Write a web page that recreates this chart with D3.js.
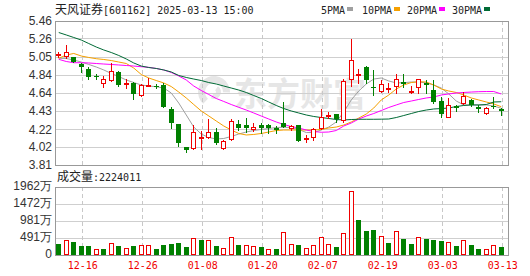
<!DOCTYPE html>
<html><head><meta charset="utf-8">
<script src="https://cdn.jsdelivr.net/npm/d3@7/dist/d3.min.js"></script>
<style>body{margin:0;background:#fff}svg{display:block}</style>
</head><body><svg id="c" width="530" height="276"></svg>
<script>
const dates = ["12-11","12-12","12-13","12-16","12-17","12-18","12-19","12-20","12-23","12-24","12-25","12-26","12-27","12-30","12-31",
"01-02","01-03","01-06","01-07","01-08","01-09","01-10","01-13","01-14","01-15","01-16","01-17","01-20","01-21","01-22","01-23","01-24","01-27",
"02-05","02-06","02-07","02-10","02-11","02-12","02-13","02-14","02-17","02-18","02-19","02-20","02-21","02-24","02-25","02-26","02-27","02-28",
"03-03","03-04","03-05","03-06","03-07","03-10","03-11","03-12","03-13"];
const openP  = [5.065,5.062,5.051,4.971,4.91,4.825,4.746,4.784,4.872,4.74,4.753,4.612,4.72,4.715,4.727,4.455,4.28,4.013,4.001,4.13,4.127,4.185,4.001,4.104,4.276,4.265,4.219,4.27,4.27,4.23,4.295,4.23,4.268,4.11,4.127,4.23,4.38,4.394,4.326,4.80,4.85,4.936,4.705,4.661,4.69,4.719,4.761,4.655,4.70,4.746,4.67,4.547,4.363,4.486,4.517,4.555,4.47,4.402,4.49,4.448];
const highP  = [5.11,5.185,5.051,4.975,4.933,4.853,4.83,4.982,4.89,4.792,4.76,4.735,4.81,4.735,4.746,4.47,4.28,4.02,4.268,4.20,4.337,4.23,4.096,4.337,4.326,4.345,4.288,4.288,4.28,4.257,4.535,4.268,4.27,4.154,4.238,4.452,4.42,4.394,4.80,5.254,4.907,4.948,4.90,4.784,4.746,4.853,4.853,4.715,4.792,4.784,4.784,4.593,4.574,4.498,4.65,4.563,4.498,4.47,4.586,4.46];
const lowP   = [5.05,5.033,4.987,4.88,4.80,4.795,4.707,4.772,4.719,4.69,4.57,4.60,4.71,4.69,4.47,4.23,4.028,3.955,3.99,3.993,4.12,4.05,3.99,4.096,4.21,4.19,4.20,4.173,4.18,4.18,4.249,4.21,4.08,4.077,4.096,4.22,4.345,4.306,4.306,4.719,4.753,4.746,4.612,4.65,4.65,4.638,4.707,4.638,4.632,4.632,4.517,4.357,4.357,4.432,4.509,4.486,4.42,4.39,4.46,4.383];
const closeP = [5.08,5.108,4.994,4.937,4.815,4.82,4.792,4.89,4.723,4.75,4.624,4.727,4.73,4.705,4.478,4.288,4.058,3.982,4.185,4.135,4.185,4.066,4.085,4.318,4.23,4.234,4.242,4.23,4.235,4.21,4.25,4.26,4.088,4.116,4.219,4.363,4.383,4.334,4.772,5.013,4.853,4.784,4.70,4.738,4.696,4.80,4.738,4.661,4.792,4.727,4.535,4.394,4.498,4.46,4.601,4.498,4.455,4.462,4.486,4.432];
const prevClose = 5.10;
const volume = [317,423,375,260,260,173,173,337,260,202,260,288,288,173,288,317,346,231,490,433,423,260,202,519,288,288,260,231,164,173,654,308,288,192,279,510,308,231,625,1837,1010,692,721,548,346,683,462,317,510,462,433,404,366,260,423,288,173,164,279,222.4011];
const ma5  = [5.033,5.030,5.013,4.990,4.962,4.933,4.899,4.859,4.824,4.784,4.755,4.727,4.715,4.707,4.692,4.635,4.520,4.383,4.245,4.165,4.125,4.108,4.114,4.137,4.165,4.188,4.205,4.217,4.228,4.240,4.242,4.240,4.217,4.182,4.182,4.211,4.245,4.303,4.417,4.555,4.658,4.738,4.795,4.807,4.773,4.750,4.753,4.761,4.761,4.750,4.727,4.692,4.624,4.543,4.498,4.498,4.498,4.498,4.486,4.460];
const ma10 = [5.033,5.070,5.088,5.059,5.042,5.028,5.019,5.007,4.990,4.973,4.921,4.847,4.807,4.778,4.750,4.709,4.646,4.578,4.503,4.429,4.372,4.314,4.257,4.211,4.171,4.154,4.160,4.171,4.188,4.205,4.211,4.211,4.211,4.211,4.211,4.217,4.234,4.245,4.268,4.303,4.348,4.394,4.463,4.555,4.612,4.681,4.727,4.755,4.764,4.761,4.727,4.681,4.658,4.641,4.612,4.578,4.555,4.532,4.509,4.478];
const ma20 = [5.021,4.996,4.982,4.982,4.979,4.973,4.967,4.962,4.956,4.950,4.944,4.936,4.929,4.916,4.899,4.870,4.830,4.784,4.715,4.664,4.618,4.572,4.538,4.503,4.471,4.440,4.406,4.371,4.337,4.303,4.274,4.251,4.234,4.211,4.194,4.185,4.188,4.205,4.257,4.291,4.337,4.371,4.400,4.434,4.469,4.498,4.526,4.543,4.561,4.578,4.589,4.612,4.624,4.635,4.641,4.646,4.650,4.652,4.652,4.624];
const ma30 = [5.328,5.300,5.271,5.242,5.202,5.162,5.128,5.099,5.065,5.025,4.979,4.944,4.927,4.916,4.899,4.876,4.836,4.813,4.795,4.778,4.755,4.738,4.715,4.692,4.669,4.641,4.606,4.572,4.532,4.492,4.457,4.429,4.406,4.383,4.366,4.354,4.343,4.331,4.326,4.331,4.334,4.334,4.334,4.335,4.337,4.354,4.377,4.400,4.423,4.440,4.452,4.457,4.463,4.480,4.492,4.498,4.498,4.503,4.532,4.535];
const maNames = ["5PMA","10PMA","20PMA","30PMA"];
const priceTicks = [3.81,4.02,4.22,4.43,4.64,4.84,5.05,5.26,5.46];
const volTicks = [0,491,981,1472,1962];
const dateTicks = ["12-16","12-26","01-08","01-20","02-07","02-19","03-03","03-13"];
const titleName = "天风证券";
const titleRest = "[601162] 2025-03-13 15:00";
const volLabel = "成交量";
const volValue = ":2224011";
const watermark = "东方财富";

const RED = "#f00000", GREEN = "#008000";
const maColors = ["#a0a0a0","#f5a000","#ff00ff","#006a35"];
const mono = "'DejaVu Sans Mono', monospace";
const cjk = "'Noto Sans CJK SC', sans-serif";
const sans = "'Liberation Sans', Arial, sans-serif";

const svg = d3.select("#c");
const L = 55, R = 509, PT = 21, PB = 165, VT = 187, VB = 255;
const x = d3.scaleBand().domain(dates).range([55, 505]);
const bw = x.bandwidth();
const cxf = d => x(d) + bw / 2;
const cx = d => Math.round(cxf(d) - 0.5);
const y = d3.scaleLinear().domain([3.81, 5.46]).range([PB, PT]);
const yv = d3.scaleLinear().domain([0, 1962]).range([VB, VT]);

// watermark
const wm = svg.append("g").attr("fill", "#e6e6e6");
wm.append("path").attr("transform", "translate(214,92)")
  .attr("d", d3.arc().innerRadius(9).outerRadius(16).startAngle(-2.4).endAngle(1.6)());
wm.append("path").attr("transform", "translate(214,92)")
  .attr("d", d3.arc().innerRadius(2).outerRadius(7).startAngle(0.6).endAngle(3.6)());
wm.append("text").attr("x", 234).attr("y", 106).attr("font-family", cjk)
  .attr("font-size", 33).attr("font-weight", "bold").text(watermark);

// horizontal grid
svg.append("g").selectAll("line").data(priceTicks.slice(1, -1)).join("line")
  .attr("x1", L).attr("x2", R)
  .attr("y1", d => Math.round(y(d)) + 0.5).attr("y2", d => Math.round(y(d)) + 0.5)
  .attr("stroke", "#cfcfcf");
svg.append("g").selectAll("line").data(volTicks.slice(1, -1)).join("line")
  .attr("x1", L).attr("x2", R)
  .attr("y1", d => Math.round(yv(d)) + 0.5).attr("y2", d => Math.round(yv(d)) + 0.5)
  .attr("stroke", "#cfcfcf");
// vertical dashed grid
const vg = svg.append("g").attr("stroke", "#c8c8c8").attr("stroke-dasharray", "4,3");
dateTicks.forEach(d => {
  const px = cx(d) + 1.5;
  vg.append("line").attr("x1", px).attr("x2", px).attr("y1", PT).attr("y2", PB);
  vg.append("line").attr("x1", px).attr("x2", px).attr("y1", VT).attr("y2", VB);
});

// frames
svg.append("rect").attr("x", L + 0.5).attr("y", PT + 0.5).attr("width", R - L - 1).attr("height", PB - PT)
  .attr("fill", "none").attr("stroke", "#999");
svg.append("rect").attr("x", L + 0.5).attr("y", VT + 0.5).attr("width", R - L - 1).attr("height", VB - VT)
  .attr("fill", "none").attr("stroke", "#999");

// MA lines
[ma5, ma10, ma20, ma30].forEach((arr, k) => {
  svg.append("path").datum(arr)
    .attr("d", d3.line().x((d, i) => cxf(dates[i])).y(d => y(d)))
    .attr("fill", "none").attr("stroke", maColors[k]).attr("stroke-width", 1);
});

// candles
const cg = svg.append("g");
dates.forEach((d, i) => {
  const o = openP[i], c = closeP[i], h = highP[i], l = lowP[i];
  const up = c >= o;
  const col = up ? RED : GREEN;
  const px = cx(d);
  cg.append("line").attr("x1", px + 0.5).attr("x2", px + 0.5)
    .attr("y1", Math.round(y(h))).attr("y2", Math.round(y(l)) + 1).attr("stroke", col);
  const t = Math.round(y(Math.max(o, c))), b = Math.round(y(Math.min(o, c)));
  if (up && b - t >= 2) {
    cg.append("rect").attr("x", px - 1.5).attr("y", t + 0.5).attr("width", 4).attr("height", b - t)
      .attr("fill", "#fff").attr("stroke", col);
  } else {
    cg.append("rect").attr("x", px - 2).attr("y", t).attr("width", 5).attr("height", Math.max(b - t, 1) + (up ? 1 : 0))
      .attr("fill", col);
  }
});

// volume bars
const vgb = svg.append("g");
dates.forEach((d, i) => {
  const pc = i === 0 ? prevClose : closeP[i - 1];
  const up = closeP[i] > pc;
  const px = cx(d);
  const t = Math.round(yv(volume[i]));
  if (up) {
    vgb.append("rect").attr("x", px - 1.5).attr("y", t + 0.5).attr("width", 4).attr("height", VB - t - 1)
      .attr("fill", "#fff").attr("stroke", RED);
  } else {
    vgb.append("rect").attr("x", px - 2).attr("y", t).attr("width", 5).attr("height", VB - t)
      .attr("fill", GREEN);
  }
});

// axes
const ay = svg.append("g").attr("transform", "translate(52,0)")
  .call(d3.axisLeft(y).tickValues(priceTicks).tickSize(0).tickPadding(0).tickFormat(d3.format(".2f")));
ay.select(".domain").remove();
ay.selectAll("text").attr("font-family", sans).attr("font-size", 12).attr("fill", "#333");

const av = svg.append("g").attr("transform", "translate(52,-1)")
  .call(d3.axisLeft(yv).tickValues(volTicks).tickSize(0).tickPadding(0).tickFormat(d => d === 0 ? "0" : d + "万"));
av.select(".domain").remove();
av.selectAll("text").attr("font-family", sans).attr("font-size", 12).attr("fill", "#333");

const ax = svg.append("g").attr("transform", `translate(1.5,${VB})`)
  .call(d3.axisBottom(x).tickValues(dateTicks).tickSize(0).tickPadding(7));
ax.select(".domain").remove();
ax.selectAll("text").attr("font-family", mono).attr("font-size", 10).attr("fill", RED);

// title
const tt = svg.append("text").attr("x", 55).attr("y", 14).attr("fill", "#222");
tt.append("tspan").attr("font-family", cjk).attr("font-size", 12).text(titleName);
tt.append("tspan").attr("font-family", mono).attr("font-size", 10).text(titleRest);

// legend
const lx = [321, 362, 407, 452];
maNames.forEach((n, k) => {
  const t = svg.append("text").attr("x", lx[k]).attr("y", 13.5).attr("font-family", mono)
    .attr("font-size", 10).attr("fill", "#222").text(n);
  const w = t.node().getComputedTextLength();
  svg.append("rect").attr("x", Math.round(lx[k] + w + 2)).attr("y", 7).attr("width", 6).attr("height", 4)
    .attr("fill", maColors[k]);
});

// volume label
const vt = svg.append("text").attr("x", 57).attr("y", 181).attr("fill", "#222");
vt.append("tspan").attr("font-family", cjk).attr("font-size", 12).text(volLabel);
vt.append("tspan").attr("font-family", mono).attr("font-size", 10).text(volValue);
</script>
</body></html>
